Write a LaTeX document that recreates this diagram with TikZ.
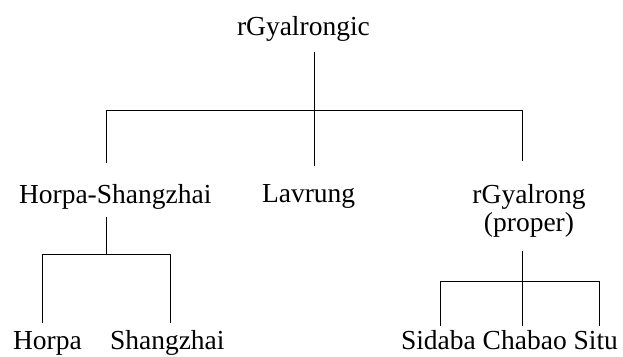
\documentclass[tikz,border=0pt]{standalone}
\usepackage{fontspec}
\setmainfont{Liberation Serif}
\begin{document}
\begin{tikzpicture}[x=1pt,y=-1pt,
  lbl/.style={inner sep=0pt,outer sep=0pt,font=\fontsize{27.5}{28}\selectfont},
  branch/.style={line width=0.9pt,black}]
\useasboundingbox[fill=white] (0,0) rectangle (623,356);
% labels
\node[lbl,anchor=base west] (root) at (237,35) {rGyalrongic};
\node[lbl,anchor=base west] (hs) at (19,203) {Horpa-Shangzhai};
\node[lbl,anchor=base west] (lav) at (262,202) {Lavrung};
\node[lbl,anchor=north,align=center] (rgp) at (529,184) {rGyalrong\\(proper)};
\node[lbl,anchor=base west] (hor) at (13,349) {Horpa};
\node[lbl,anchor=base west] (sha) at (110,349) {Shangzhai};
\node[lbl,anchor=base west] (sub) at (401,349) {Sidaba Chabao Situ};
% junction coordinates
\coordinate (r0) at (314,52);
\coordinate (r1) at (314,110);
\coordinate (rL) at (106,110);
\coordinate (rR) at (522,110);
\coordinate (rLe) at (106,163);
\coordinate (rMe) at (314,166);
\coordinate (rRe) at (522,161);
\coordinate (h0) at (106,217);
\coordinate (h1) at (106,254);
\coordinate (hL) at (42,254);
\coordinate (hR) at (170,254);
\coordinate (hLe) at (42,323);
\coordinate (hRe) at (170,323);
\coordinate (g0) at (522,251);
\coordinate (g1) at (522,281);
\coordinate (gL) at (440,281);
\coordinate (gR) at (599,281);
\coordinate (gLe) at (440,326);
\coordinate (gMe) at (522,326);
\coordinate (gRe) at (599,326);
% connectors
\draw[branch] (r0) -- (rMe);
\draw[branch] (rLe) -- (rL) -- (rR) -- (rRe);
\draw[branch] (h0) -- (h1);
\draw[branch] (hLe) -- (hL) -- (hR) -- (hRe);
\draw[branch] (g0) -- (gMe);
\draw[branch] (gLe) -- (gL) -- (gR) -- (gRe);
\end{tikzpicture}
\end{document}
